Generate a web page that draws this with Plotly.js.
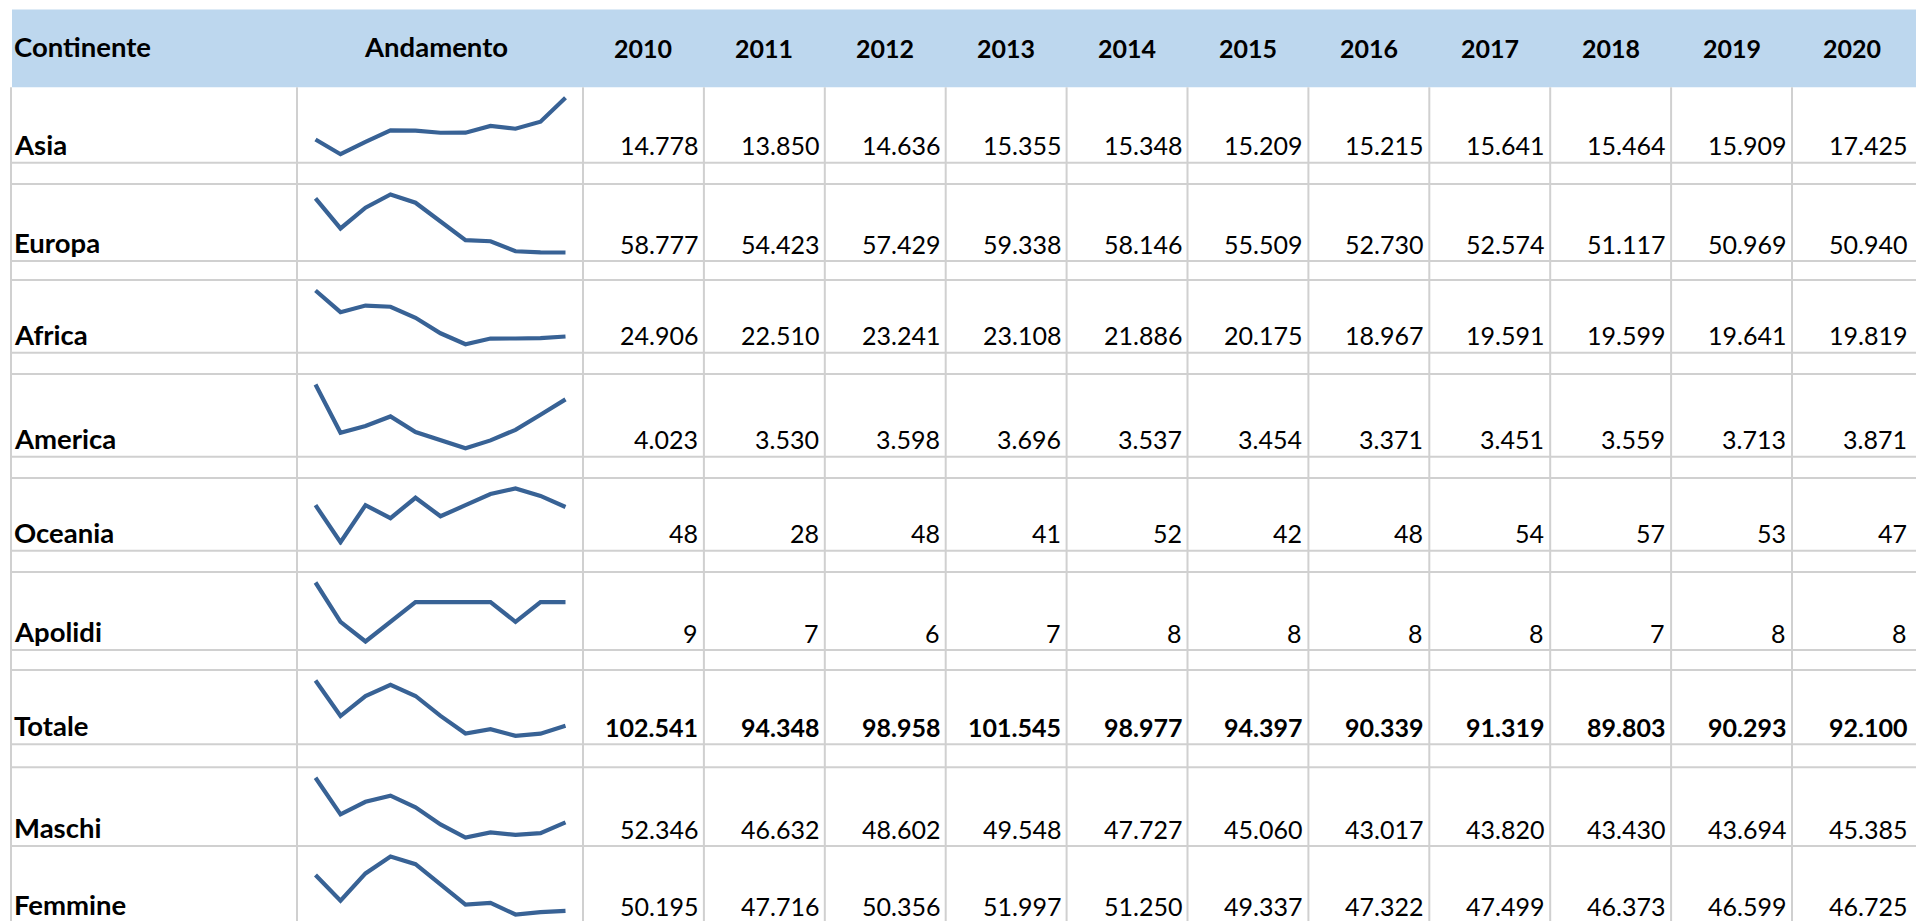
<!DOCTYPE html>
<html>
<head>
<meta charset="utf-8">
<script src="https://cdn.plot.ly/plotly-3.0.1.min.js"></script>
<style>
html,body{margin:0;padding:0;background:#ffffff;overflow:hidden;}
#chart{width:1916px;height:921px;}
</style>
</head>
<body>
<div id="chart"></div>
<script>
// ---------------- DATA ----------------
const years = [2010, 2011, 2012, 2013, 2014, 2015, 2016, 2017, 2018, 2019, 2020];
const yearLabels = ['2010','2011','2012','2013','2014','2015','2016','2017','2018','2019','2020'];
const headerLabels = ['Continente', 'Andamento'];
const categories = ['Asia', 'Europa', 'Africa', 'America', 'Oceania', 'Apolidi', 'Totale', 'Maschi', 'Femmine'];
const asia    = [14778, 13850, 14636, 15355, 15348, 15209, 15215, 15641, 15464, 15909, 17425];
const europa  = [58777, 54423, 57429, 59338, 58146, 55509, 52730, 52574, 51117, 50969, 50940];
const africa  = [24906, 22510, 23241, 23108, 21886, 20175, 18967, 19591, 19599, 19641, 19819];
const america = [4023, 3530, 3598, 3696, 3537, 3454, 3371, 3451, 3559, 3713, 3871];
const oceania = [48, 28, 48, 41, 52, 42, 48, 54, 57, 53, 47];
const apolidi = [9, 7, 6, 7, 8, 8, 8, 8, 7, 8, 8];
const totale  = [102541, 94348, 98958, 101545, 98977, 94397, 90339, 91319, 89803, 90293, 92100];
const maschi  = [52346, 46632, 48602, 49548, 47727, 45060, 43017, 43820, 43430, 43694, 45385];
const femmine = [50195, 47716, 50356, 51997, 51250, 49337, 47322, 47499, 46373, 46599, 46725];
const series = [asia, europa, africa, america, oceania, apolidi, totale, maschi, femmine];
const boldRows = ['Totale'];

// ---------------- GEOMETRY / STYLE ----------------
const W = 1916, H = 921;
const leftX = 11, labelColRight = 297, sparkColRight = 583, dataColW = 120.9;
const headerTop = 9.5, headerBottom = 87.3;
const rowTops    = [87.3, 184, 280, 374, 478, 572, 670, 767.3, 846];
const rowBottoms = [162.7, 261, 352.7, 456.7, 550.7, 650, 744.3, 846, 923];
const sparkX0 = 315.5, sparkX1 = 565.5, sparkPadTop = 10.5, sparkPadBottom = 8.5, clipExtra = 3;
const gridColor = '#d0d0d0', headerFill = '#bdd7ee', sparkColor = '#386295';
const FONT = 'Lato, "Liberation Sans", sans-serif';
const numSize = 25, wordSize = 27.5, yearSize = 25;
const numRightPad = 4, labelX = 12;
const baselineFromBottom = 7.7, headerBaseline = 57.5;
const ASC = 0.987, DESC = 0.213;

const px = x => x / W;
const py = y => 1 - y / H;
const fmt = n => String(n).replace(/\B(?=(\d{3})+(?!\d))/g, '.');
const colLeft = k => sparkColRight + k * dataColW;
// annotation anchors so that text baselines land where wanted
const bottomAnchor = (baseline, fs) => baseline + DESC * fs + 2;
const middleAnchor = (baseline, fs) => baseline - (ASC - 0.6) * fs;

const shapes = [];
const annotations = [];
const traces = [];
const layout = {
  width: W, height: H,
  margin: {l: 0, r: 0, t: 0, b: 0, pad: 0},
  paper_bgcolor: '#ffffff', plot_bgcolor: 'rgba(0,0,0,0)',
  showlegend: false,
  font: {family: FONT, size: numSize, color: '#000000'},
  shapes: shapes, annotations: annotations
};

// header band
shapes.push({type: 'rect', xref: 'paper', yref: 'paper', x0: px(12), x1: 1, y0: py(headerBottom), y1: py(headerTop),
  fillcolor: headerFill, line: {width: 0}, layer: 'below'});

// horizontal grid lines
const hLines = rowTops.concat(rowBottoms);
hLines.forEach(y => {
  if (y <= headerBottom + 0.5) return;
  shapes.push({type: 'line', xref: 'paper', yref: 'paper', x0: px(leftX), x1: 1, y0: py(y), y1: py(y),
    line: {color: gridColor, width: 2}});
});
// vertical grid lines
const vLines = [leftX, labelColRight];
for (let k = 0; k < years.length; k++) vLines.push(colLeft(k));
vLines.forEach(x => {
  shapes.push({type: 'line', xref: 'paper', yref: 'paper', x0: px(x), x1: px(x), y0: py(headerBottom), y1: 0,
    line: {color: gridColor, width: 2}});
});

// header texts
const hwY = py(middleAnchor(headerBaseline, wordSize));
const hyY = py(middleAnchor(headerBaseline, yearSize));
annotations.push({xref: 'paper', yref: 'paper', x: px(labelX), y: hwY, xanchor: 'left', yanchor: 'middle',
  text: '<b>' + headerLabels[0] + '</b>', showarrow: false, font: {family: FONT, size: wordSize, color: '#000'}});
annotations.push({xref: 'paper', yref: 'paper', x: px((labelColRight + sparkColRight) / 2 - 4), y: hwY, xanchor: 'center', yanchor: 'middle',
  text: '<b>' + headerLabels[1] + '</b>', showarrow: false, font: {family: FONT, size: wordSize, color: '#000'}});
yearLabels.forEach((lab, k) => {
  annotations.push({xref: 'paper', yref: 'paper', x: px(colLeft(k) + dataColW / 2), y: hyY, xanchor: 'center', yanchor: 'middle',
    text: '<b>' + lab + '</b>', showarrow: false, font: {family: FONT, size: yearSize, color: '#000'}});
});

// body rows
categories.forEach((cat, i) => {
  const vals = series[i];
  const bold = boldRows.indexOf(cat) >= 0;
  const base = rowBottoms[i] - baselineFromBottom;
  annotations.push({xref: 'paper', yref: 'paper', x: px(labelX), y: py(bottomAnchor(base, wordSize)), xanchor: 'left', yanchor: 'bottom',
    text: '<b>' + cat + '</b>', showarrow: false, font: {family: FONT, size: wordSize, color: '#000'}});
  vals.forEach((v, k) => {
    annotations.push({xref: 'paper', yref: 'paper', x: px(colLeft(k) + dataColW - numRightPad), y: py(bottomAnchor(base, numSize)),
      xanchor: 'right', yanchor: 'bottom', text: bold ? '<b>' + fmt(v) + '</b>' : fmt(v), showarrow: false,
      font: {family: FONT, size: numSize, color: '#000'}});
  });

  // sparkline: its own small axis pair inside the "Andamento" cell
  const n = i + 2;
  const top = rowTops[i] + sparkPadTop, bottom = rowBottoms[i] - sparkPadBottom;
  const vmin = Math.min.apply(null, vals), vmax = Math.max.apply(null, vals);
  const span = (vmax - vmin) || 1;
  const ey = clipExtra * span / (bottom - top);
  const xspan = years[years.length - 1] - years[0];
  const ex = clipExtra * xspan / (sparkX1 - sparkX0);
  layout['xaxis' + n] = {domain: [px(sparkX0 - clipExtra), px(sparkX1 + clipExtra)],
    range: [years[0] - ex, years[years.length - 1] + ex], visible: false, fixedrange: true, anchor: 'y' + n};
  layout['yaxis' + n] = {domain: [py(bottom + clipExtra), py(top - clipExtra)],
    range: [vmin - ey, vmax + ey], visible: false, fixedrange: true, anchor: 'x' + n};
  traces.push({type: 'scatter', mode: 'lines', x: years, y: vals, xaxis: 'x' + n, yaxis: 'y' + n,
    line: {color: sparkColor, width: 4.2}, hoverinfo: 'skip', name: cat});
});

Plotly.newPlot('chart', traces, layout, {staticPlot: true, displayModeBar: false});
</script>
</body>
</html>
